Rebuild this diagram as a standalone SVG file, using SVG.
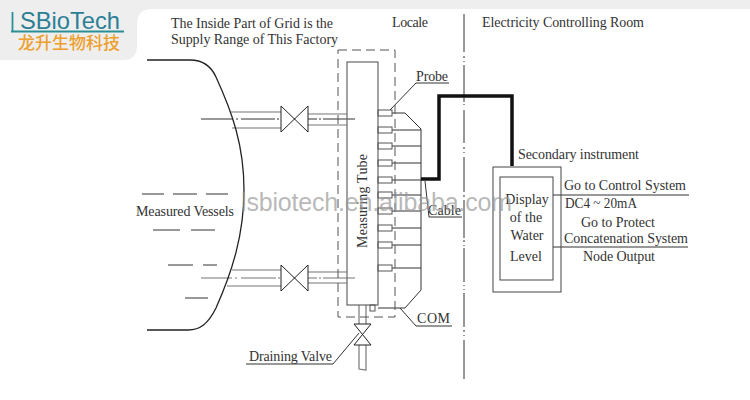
<svg xmlns="http://www.w3.org/2000/svg" width="750" height="400" viewBox="0 0 750 400">
<style>
.l{fill:none;stroke:#333;stroke-width:1}
.g{fill:none;stroke:#777;stroke-width:1.2}
.v{fill:#fff;stroke:#222;stroke-width:1}
.t{font-family:"Liberation Serif",serif;font-size:14px;fill:#333}
.m{text-anchor:middle}
</style>
<rect width="750" height="400" fill="#fff"/>
<g id="logo">
<path d="M0 0H750V9H152Q137 9 137 24V46Q137 60 123 60H0Z" fill="#eeeeee"/>
<path d="M12.500 12V31M11 31.500H124" fill="none" stroke="#2a8f96" stroke-width="1.800"/>
<text x="20" y="29" font-family="'Liberation Sans',sans-serif" font-size="24" fill="#2b7f95" textLength="100" lengthAdjust="spacingAndGlyphs">SBioTech</text>
<text x="18" y="49" font-family="'Noto Sans CJK SC',sans-serif" font-size="17" font-weight="500" fill="#eda02d">龙升生物科技</text>
</g>
<text class="t" x="171" y="28" textLength="162">The Inside Part of Grid is the</text>
<text class="t" x="171" y="44" textLength="167">Supply Range of This Factory</text>
<text class="t" x="392" y="27" textLength="36">Locale</text>
<text class="t" x="482" y="27" textLength="162">Electricity Controlling Room</text>
<g id="connectors">
<path class="l" d="M464 14V52M464 56V58M464 61V62M464 65V102M464 104V105M464 110V143M464 147V149M464 152V153M464 157V192M464 195V197M464 200V238M464 240V242M464 245V246M464 248V282M464 285V286M464 289V290M464 293V327M464 330V332M464 335V336M464 340V379"/>
<path class="l" d="M201 119H233M236 119H238M241 119H275M277 119H279M281 119H317M319 119H321M323 119H355"/>
<path class="g" d="M201 278H232M235 278H237M241 278H276M278 278H280M281 278H317M319 278H321M323 278H355"/>
<path class="g" d="M230 112H281M232 128H281M308 114H347M308 125H347M232 270H281M227 286H281M308 272H347M308 283H347"/>
<path class="g" d="M359 305V324M366 305V324M359 345V369L366 370V345"/>
<path class="l" d="M392 113H405L421 129V290L405 308H378M392 130H421M392 146H421M392 163H421M392 180H421M392 195H421M392 211H421M392 228H421M392 245H421M392 268H421"/>
<path d="M421 179H439V96H512V166" fill="none" stroke="#111" stroke-width="3.500"/>
<path class="l" d="M390 110L416 83H449M400 308L416 326H452M425 181L429 217H462M359 333L333 364H246"/>
<path class="l" d="M553 195H689M553 247H688"/>
</g>
<g id="vessel">
<path d="M147 60H190C203 60 211 66 216 77C232 112 244 145 244 190C244 235 232 272 216 308C208 324 200 330 188 330H147" fill="none" stroke="#222" stroke-width="1.300"/>
<path class="l" d="M142 194H164M173 194H197M206 194H228M153 230H180M191 230H215M168 265H193M203 265H217M185 298H208"/>
<text class="t" x="136" y="216" textLength="98">Measured Vessels</text>
</g>
<g id="valve-top"><path class="v" d="M281 106V132L308 106V132Z"/></g>
<g id="valve-bottom"><path class="v" d="M281 265V291L308 265V291Z"/></g>
<g id="valve-drain"><path class="v" d="M354 324H371L354 345H371Z"/><text class="t" x="249" y="361" textLength="83">Draining Valve</text></g>
<g id="grid"><rect x="338" y="50" width="57" height="267" fill="none" stroke="#555" stroke-dasharray="9 5"/></g>
<g id="tube">
<rect x="347" y="62" width="31" height="243" fill="none" stroke="#666" stroke-width="1.200"/>
<text class="t" transform="translate(367 248) rotate(-90)" font-size="14" letter-spacing="0.2">Measuring Tube</text>
<rect x="370" y="305" width="5" height="6" fill="none" stroke="#555"/>
</g>
<g id="probes" fill="none" stroke="#555">
<rect x="378" y="110" width="14" height="6"/><rect x="378" y="127" width="14" height="6"/><rect x="378" y="143" width="14" height="6"/><rect x="378" y="160" width="14" height="6"/><rect x="378" y="177" width="14" height="6"/><rect x="378" y="192" width="14" height="6"/><rect x="378" y="208" width="14" height="6"/><rect x="378" y="225" width="14" height="6"/><rect x="378" y="242" width="14" height="6"/><rect x="378" y="265" width="14" height="6"/>
</g>
<text class="t" x="416" y="81" textLength="32">Probe</text>
<text class="t" x="428" y="215" textLength="33">Cable</text>
<text class="t" x="417" y="323" textLength="33">COM</text>
<g id="instrument">
<rect x="493" y="167" width="68" height="125" fill="none" stroke="#444"/>
<rect x="500" y="177" width="53" height="103" fill="none" stroke="#444"/>
<text class="t m" x="527" y="204">Display</text>
<text class="t m" x="526" y="222">of the</text>
<text class="t m" x="527" y="240">Water</text>
<text class="t m" x="526" y="261">Level</text>
</g>
<text class="t" x="518" y="159" textLength="121">Secondary instrument</text>
<text class="t" x="564" y="190" textLength="122">Go to Control System</text>
<text class="t" x="565" y="208" textLength="72" lengthAdjust="spacingAndGlyphs">DC4 ~ 20mA</text>
<text class="t" x="581" y="227" textLength="74">Go to Protect</text>
<text class="t" x="564" y="243" textLength="124">Concatenation System</text>
<text class="t" x="583" y="261" textLength="72">Node Output</text>
<text x="241" y="211" font-family="'Liberation Sans',sans-serif" font-size="25" fill="#999" fill-opacity="0.7" textLength="271">lsbiotech.en.alibaba.com</text>
</svg>
